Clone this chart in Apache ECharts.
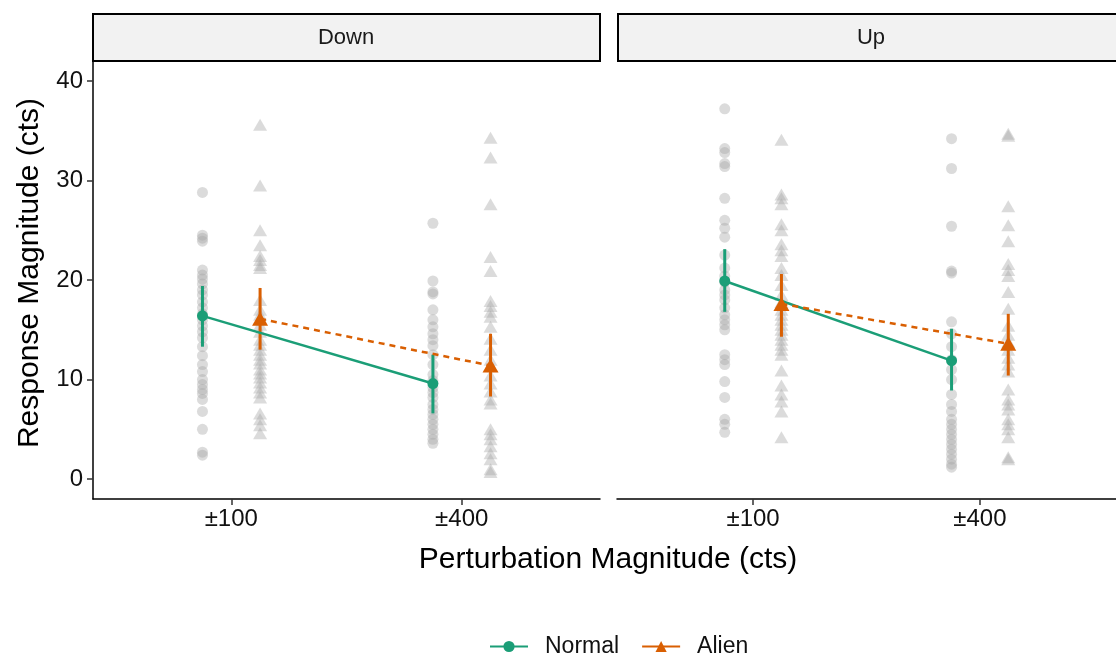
<!DOCTYPE html>
<html>
<head>
<meta charset="utf-8">
<script src="https://cdn.jsdelivr.net/npm/echarts@6/dist/echarts.min.js"></script>
<style>
  html, body { margin: 0; padding: 0; background: #fff; }
  #chart { width: 1116px; height: 656px; }
</style>
</head>
<body>
<div id="chart"></div>
<script>
// categories and facets
const categories = ['±100', '±400']
const facets = ['Down', 'Up']
const yTicks = [0, 10, 20, 30, 40]

// raw responses (grey points), per facet / condition / category
const downNormal100 = [28.8, 24.5, 24.2, 23.9, 21.0, 20.5, 20.1, 19.6, 19.0, 18.5, 17.8, 17.2, 16.6, 16.0, 15.4, 14.8, 14.2, 13.3, 12.4, 11.5, 10.8, 10.0, 9.5, 9.0, 8.6, 8.0, 6.8, 5.0, 2.7, 2.4]
const downAlien100 = [35.6, 29.5, 25.0, 23.5, 22.4, 22.0, 21.5, 21.2, 18.0, 17.0, 16.5, 15.5, 14.8, 14.0, 13.5, 13.0, 12.5, 12.0, 11.6, 11.0, 10.6, 10.2, 9.7, 9.2, 8.7, 8.2, 6.6, 6.0, 5.4, 4.6]
const downNormal400 = [25.7, 19.9, 18.8, 18.6, 17.0, 16.0, 15.3, 14.6, 14.0, 13.4, 12.5, 11.5, 10.5, 9.9, 9.2, 8.7, 8.2, 7.5, 7.0, 6.5, 6.0, 5.5, 5.0, 4.5, 4.0, 3.6]
const downAlien400 = [34.3, 32.3, 27.6, 22.3, 20.9, 17.9, 17.4, 16.8, 16.3, 15.3, 14.1, 13.0, 12.0, 11.4, 10.4, 9.6, 8.8, 8.0, 7.6, 5.0, 4.5, 4.0, 3.3, 2.6, 2.0, 1.0, 0.7]
const upNormal100 = [37.2, 33.2, 32.8, 31.7, 31.4, 28.2, 26.0, 25.2, 24.3, 22.5, 21.2, 20.4, 19.8, 19.0, 18.5, 18.0, 17.2, 16.5, 16.0, 15.5, 15.0, 12.5, 12.0, 11.5, 9.8, 8.2, 6.0, 5.5, 4.7]
const upAlien100 = [34.1, 28.6, 28.2, 27.6, 25.6, 25.0, 23.6, 23.0, 22.4, 21.2, 20.5, 19.5, 18.5, 17.8, 17.0, 16.5, 16.0, 15.5, 15.0, 14.5, 14.0, 13.5, 13.0, 12.5, 10.9, 9.4, 8.5, 7.8, 6.8, 4.2]
const upNormal400 = [34.2, 31.2, 25.4, 20.9, 20.7, 15.8, 14.6, 13.3, 12.0, 11.0, 10.0, 8.5, 7.5, 6.8, 6.0, 5.5, 5.0, 4.5, 4.0, 3.5, 3.0, 2.5, 2.0, 1.5, 1.2]
const upAlien400 = [34.7, 34.5, 27.4, 25.5, 23.9, 21.6, 21.0, 20.4, 18.8, 17.1, 15.4, 14.5, 13.8, 13.0, 12.2, 11.5, 10.8, 9.0, 8.0, 7.5, 7.0, 6.0, 5.5, 5.0, 4.2, 2.2, 2.0]

// means and error bar limits (±100, ±400)
const downNormalMean = [16.4, 9.6]
const downNormalLow = [13.3, 6.6]
const downNormalHigh = [19.4, 12.5]
const downAlienMean = [16.1, 11.4]
const downAlienLow = [13.0, 8.3]
const downAlienHigh = [19.2, 14.6]
const upNormalMean = [19.9, 11.9]
const upNormalLow = [16.8, 8.9]
const upNormalHigh = [23.1, 15.1]
const upAlienMean = [17.6, 13.6]
const upAlienLow = [14.3, 10.4]
const upAlienHigh = [20.6, 16.6]

const GREEN = '#1B9E77'
const ORANGE = '#D95F02'
const POINT = 'rgba(165,165,165,0.5)'
const FONT = 'Liberation Sans'
const DODGE = 0.125

const rawByFacet = [
  { normal: [downNormal100, downNormal400], alien: [downAlien100, downAlien400] },
  { normal: [upNormal100, upNormal400], alien: [upAlien100, upAlien400] }
]
const summaryByFacet = [
  { normal: [downNormalMean, downNormalLow, downNormalHigh], alien: [downAlienMean, downAlienLow, downAlienHigh] },
  { normal: [upNormalMean, upNormalLow, upNormalHigh], alien: [upAlienMean, upAlienLow, upAlienHigh] }
]

// x position of a category with dodge offset
function xPos(catIdx, offset) {
  return catIdx + 1 + offset
}

function rawPoints(lists, offset) {
  const out = []
  lists.forEach((vals, ci) => {
    vals.forEach(v => out.push([xPos(ci, offset), v]))
  })
  return out
}

function errorBarSeries(idx, summary, offset, color) {
  const [mean, low, high] = summary
  return {
    type: 'custom',
    xAxisIndex: idx,
    yAxisIndex: idx,
    z: 4,
    silent: true,
    data: categories.map((c, ci) => [xPos(ci, offset), low[ci], high[ci]]),
    renderItem: (params, api) => {
      const x = api.value(0)
      const p1 = api.coord([x, api.value(1)])
      const p2 = api.coord([x, api.value(2)])
      return {
        type: 'line',
        shape: { x1: p1[0], y1: p1[1], x2: p2[0], y2: p2[1] },
        style: { stroke: color, lineWidth: 3 }
      }
    }
  }
}

const grids = [
  { left: 93, top: 61, width: 507, height: 438 },
  { left: 617, top: 61, width: 507, height: 438 }
]

const xAxes = facets.map((f, i) => ({
  type: 'value',
  gridIndex: i,
  min: 0.4,
  max: 2.6,
  splitLine: { show: false },
  axisLine: { show: true, onZero: false, lineStyle: { color: '#000', width: 1.5 } },
  axisTick: { show: true, length: 6, customValues: [1, 2], lineStyle: { color: '#333', width: 1.5 } },
  axisLabel: {
    customValues: [1, 2],
    formatter: v => categories[Math.round(v) - 1],
    color: '#111',
    fontFamily: FONT,
    fontSize: 24,
    margin: 8
  }
}))

const yAxes = facets.map((f, i) => ({
  type: 'value',
  gridIndex: i,
  min: -2,
  max: 42,
  splitLine: { show: false },
  axisLine: { show: i === 0, lineStyle: { color: '#000', width: 1.5 } },
  axisTick: { show: i === 0, length: 6, customValues: yTicks, lineStyle: { color: '#333', width: 1.5 } },
  axisLabel: {
    show: i === 0,
    customValues: yTicks,
    color: '#111',
    fontFamily: FONT,
    fontSize: 24,
    margin: 10
  }
}))

const series = []
facets.forEach((f, i) => {
  const raw = rawByFacet[i]
  const sum = summaryByFacet[i]
  series.push({
    type: 'scatter',
    xAxisIndex: i,
    yAxisIndex: i,
    symbol: 'circle',
    symbolSize: 11,
    itemStyle: { color: POINT },
    silent: true,
    z: 1,
    data: rawPoints(raw.normal, -DODGE)
  })
  series.push({
    type: 'scatter',
    xAxisIndex: i,
    yAxisIndex: i,
    symbol: 'triangle',
    symbolSize: [14, 12],
    itemStyle: { color: POINT },
    silent: true,
    z: 1,
    data: rawPoints(raw.alien, DODGE)
  })
  series.push(errorBarSeries(i, sum.normal, -DODGE, GREEN))
  series.push(errorBarSeries(i, sum.alien, DODGE, ORANGE))
  series.push({
    name: 'Normal',
    type: 'line',
    xAxisIndex: i,
    yAxisIndex: i,
    z: 5,
    symbol: 'circle',
    symbolSize: 11,
    showAllSymbol: true,
    lineStyle: { color: GREEN, width: 2.5 },
    itemStyle: { color: GREEN },
    data: categories.map((c, ci) => [xPos(ci, -DODGE), sum.normal[0][ci]])
  })
  series.push({
    name: 'Alien',
    type: 'line',
    xAxisIndex: i,
    yAxisIndex: i,
    z: 5,
    symbol: 'triangle',
    symbolSize: [16, 14],
    showAllSymbol: true,
    lineStyle: { color: ORANGE, width: 2.5, type: [6, 5] },
    itemStyle: { color: ORANGE },
    data: categories.map((c, ci) => [xPos(ci, DODGE), sum.alien[0][ci]])
  })
})

const graphic = [
  {
    type: 'rect',
    shape: { x: 93, y: 14, width: 507, height: 47 },
    style: { fill: '#f2f2f2', stroke: '#000', lineWidth: 2 }
  },
  {
    type: 'rect',
    shape: { x: 618, y: 14, width: 520, height: 47 },
    style: { fill: '#f2f2f2', stroke: '#000', lineWidth: 2 }
  },
  {
    type: 'text',
    x: 346, y: 38,
    style: { text: facets[0], font: '22px "Liberation Sans"', fill: '#1a1a1a', textAlign: 'center', textVerticalAlign: 'middle' }
  },
  {
    type: 'text',
    x: 871, y: 38,
    style: { text: facets[1], font: '22px "Liberation Sans"', fill: '#1a1a1a', textAlign: 'center', textVerticalAlign: 'middle' }
  },
  {
    type: 'text',
    x: 608, y: 560,
    style: { text: 'Perturbation Magnitude (cts)', font: '30px "Liberation Sans"', fill: '#000', textAlign: 'center', textVerticalAlign: 'middle' }
  },
  {
    type: 'text',
    x: 30, y: 273,
    rotation: Math.PI / 2,
    style: { text: 'Response Magnitude (cts)', font: '30px "Liberation Sans"', fill: '#000', textAlign: 'center', textVerticalAlign: 'middle' }
  }
]

const chart = echarts.init(document.getElementById('chart'), null, { renderer: 'canvas' })
chart.setOption({
  animation: false,
  backgroundColor: '#fff',
  grid: grids,
  xAxis: xAxes,
  yAxis: yAxes,
  series: series,
  graphic: graphic,
  legend: {
    left: 484,
    top: 630,
    itemWidth: 38,
    itemHeight: 14,
    itemGap: 22,
    textStyle: { fontFamily: FONT, fontSize: 23, color: '#111', padding: [0, 0, 0, 12] },
    data: [
      { name: 'Normal', lineStyle: { type: 'solid' } },
      { name: 'Alien', lineStyle: { type: 'solid' } }
    ]
  }
})
</script>
</body>
</html>
